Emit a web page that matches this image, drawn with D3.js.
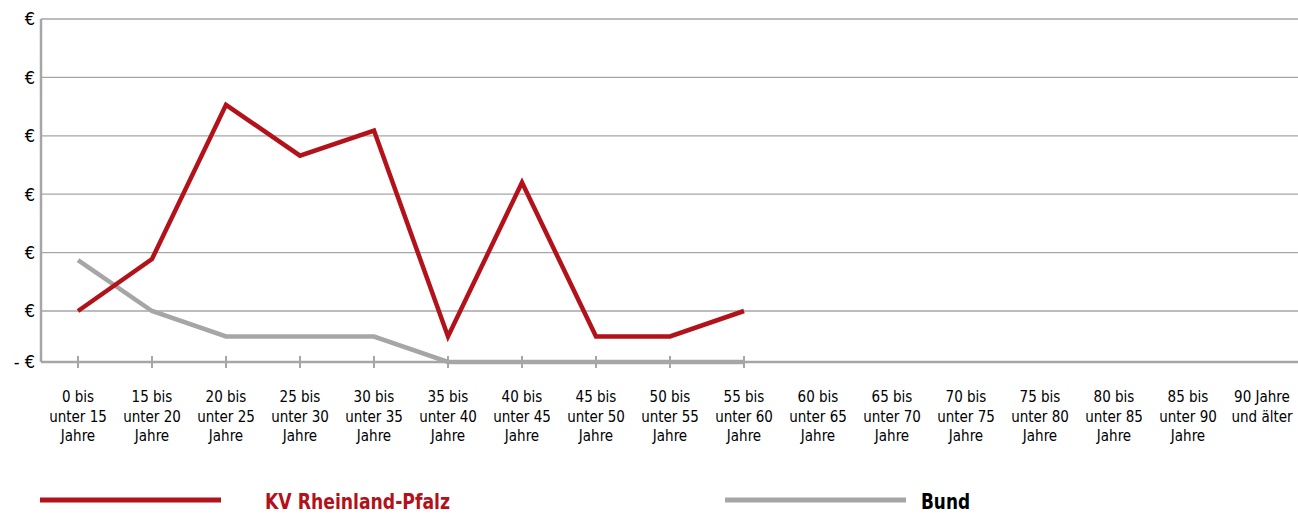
<!DOCTYPE html>
<html>
<head>
<meta charset="utf-8">
<script src="https://cdn.jsdelivr.net/npm/d3@7"></script>
<style>
  body { margin: 0; background: #fff; }
  text { font-family: "DejaVu Sans Condensed", "Liberation Sans Narrow", "Noto Sans", sans-serif; }
</style>
</head>
<body>
<div id="chart"></div>
<script>
// age groups (three lines per label)
const categories = [
    ["0 bis", "unter 15", "Jahre"],
    ["15 bis", "unter 20", "Jahre"],
    ["20 bis", "unter 25", "Jahre"],
    ["25 bis", "unter 30", "Jahre"],
    ["30 bis", "unter 35", "Jahre"],
    ["35 bis", "unter 40", "Jahre"],
    ["40 bis", "unter 45", "Jahre"],
    ["45 bis", "unter 50", "Jahre"],
    ["50 bis", "unter 55", "Jahre"],
    ["55 bis", "unter 60", "Jahre"],
    ["60 bis", "unter 65", "Jahre"],
    ["65 bis", "unter 70", "Jahre"],
    ["70 bis", "unter 75", "Jahre"],
    ["75 bis", "unter 80", "Jahre"],
    ["80 bis", "unter 85", "Jahre"],
    ["85 bis", "unter 90", "Jahre"],
    ["90 Jahre", "und älter"]
];

// values in gridline units (the € amounts are hidden in the original)
const kvValues = [1, 1.89, 4.53, 3.66, 4.09, 0.5, 3.2, 0.5, 0.5, 1];
const bundValues = [1.87, 1, 0.5, 0.5, 0.5, 0, 0, 0, 0, 0];

const yTicks = [0, 1, 2, 3, 4, 5, 6];
const yTickLabels = ["- €", "€", "€", "€", "€", "€", "€"];

const width = 1298;
const height = 515;
const plotLeft = 41, plotRight = 1299, plotTop = 19, plotBottom = 362;

const svg = d3.select("#chart")
    .append("svg")
    .attr("width", width)
    .attr("height", height);

const x = d3.scaleBand()
    .domain(d3.range(categories.length))
    .range([plotLeft, plotRight]);

// first step is a bit shorter than the others, as in the source chart
const y = d3.scaleLinear()
    .domain([0, 1, 6])
    .range([plotBottom, 311, plotTop]);

const cx = i => x(i) + x.bandwidth() / 2;

// GRIDLINES
svg.selectAll("line.grid")
    .data(yTicks.filter(d => d > 0))
    .enter()
    .append("line")
    .attr("class", "grid")
    .attr("x1", plotLeft)
    .attr("x2", width)
    .attr("y1", d => y(d))
    .attr("y2", d => y(d))
    .attr("stroke", "#a6a6a6")
    .attr("stroke-width", 1.3);

// Y LABELS
svg.selectAll("text.ylab")
    .data(yTicks)
    .enter()
    .append("text")
    .attr("class", "ylab")
    .attr("x", 35)
    .attr("y", d => y(d))
    .attr("dy", "0.36em")
    .attr("text-anchor", "end")
    .attr("font-size", 18)
    .attr("fill", "#000")
    .text((d, i) => yTickLabels[i]);

// AXES
svg.append("line")
    .attr("x1", plotLeft).attr("x2", plotLeft)
    .attr("y1", plotTop).attr("y2", plotBottom)
    .attr("stroke", "#a6a6a6")
    .attr("stroke-width", 2.5);

svg.append("line")
    .attr("x1", plotLeft).attr("x2", width)
    .attr("y1", plotBottom).attr("y2", plotBottom)
    .attr("stroke", "#a6a6a6")
    .attr("stroke-width", 2.5);

// tick marks only under the categories that have data
svg.selectAll("line.tick")
    .data(d3.range(kvValues.length))
    .enter()
    .append("line")
    .attr("class", "tick")
    .attr("x1", d => cx(d))
    .attr("x2", d => cx(d))
    .attr("y1", plotBottom - 6)
    .attr("y2", plotBottom + 6)
    .attr("stroke", "#a6a6a6")
    .attr("stroke-width", 2);

// X LABELS
const xl = svg.selectAll("text.xlab")
    .data(categories)
    .enter()
    .append("text")
    .attr("class", "xlab")
    .attr("text-anchor", "middle")
    .attr("font-size", 15)
    .attr("fill", "#000");

xl.selectAll("tspan")
    .data((d, i) => d.map(t => ({ t, i })))
    .enter()
    .append("tspan")
    .attr("x", d => cx(d.i))
    .attr("y", (d, j) => 402 + j * 19.5)
    .text(d => d.t);

// LINES
const line = d3.line()
    .x((d, i) => cx(i))
    .y(d => y(d));

svg.append("path")
    .datum(bundValues)
    .attr("d", line)
    .attr("fill", "none")
    .attr("stroke", "#a6a6a6")
    .attr("stroke-width", 4.5);

svg.append("path")
    .datum(kvValues)
    .attr("d", line)
    .attr("fill", "none")
    .attr("stroke", "#b3121a")
    .attr("stroke-width", 4.5);

// LEGEND
svg.append("line")
    .attr("x1", 40).attr("x2", 221)
    .attr("y1", 500).attr("y2", 500)
    .attr("stroke", "#b3121a")
    .attr("stroke-width", 5);

svg.append("text")
    .attr("x", 265)
    .attr("y", 509)
    .attr("font-size", 21)
    .attr("font-weight", "bold")
    .attr("fill", "#b3121a")
    .attr("textLength", 185)
    .attr("lengthAdjust", "spacingAndGlyphs")
    .text("KV Rheinland-Pfalz");

svg.append("line")
    .attr("x1", 725).attr("x2", 906)
    .attr("y1", 500).attr("y2", 500)
    .attr("stroke", "#a6a6a6")
    .attr("stroke-width", 5);

svg.append("text")
    .attr("x", 921)
    .attr("y", 509)
    .attr("font-size", 21)
    .attr("font-weight", "bold")
    .attr("fill", "#000")
    .attr("textLength", 49)
    .attr("lengthAdjust", "spacingAndGlyphs")
    .text("Bund");
</script>
</body>
</html>
